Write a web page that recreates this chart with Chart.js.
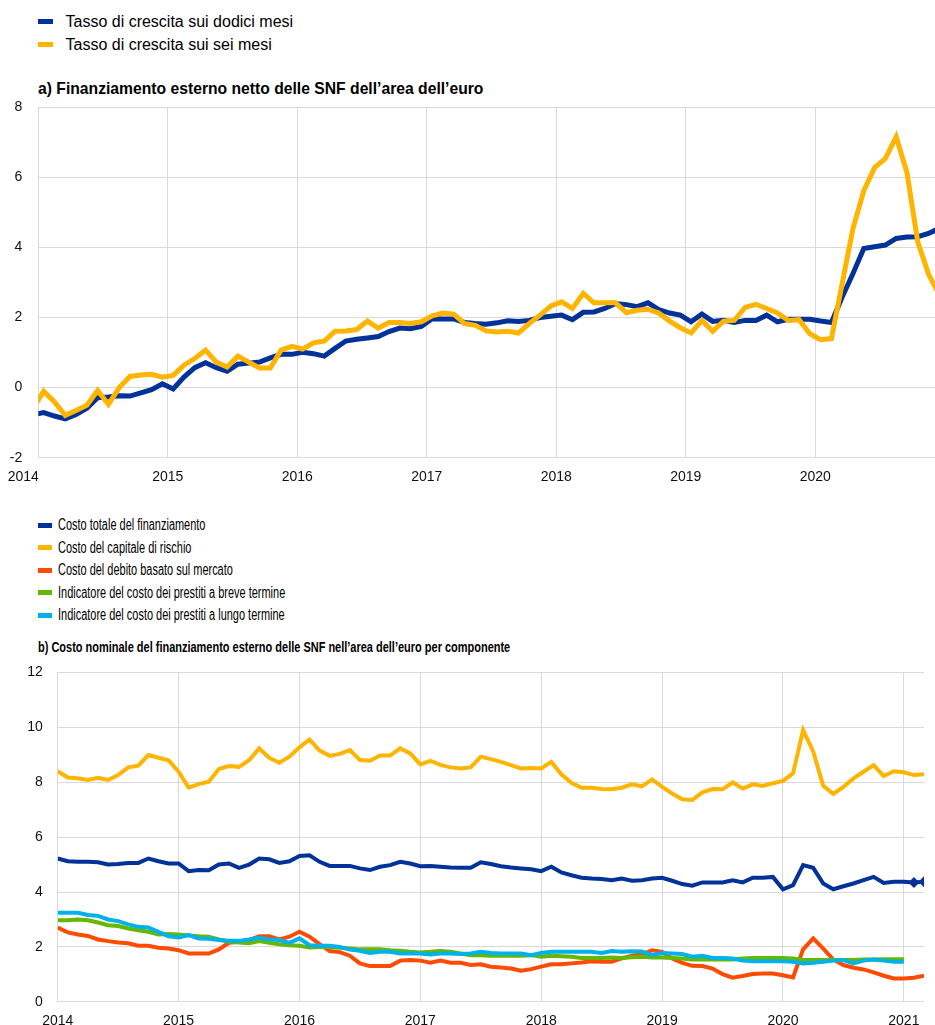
<!DOCTYPE html>
<html lang="it">
<head>
<meta charset="utf-8">
<script src="https://cdn.jsdelivr.net/npm/chart.js@4.4.1/dist/chart.umd.min.js"></script>
<style>
html,body{margin:0;padding:0;background:#fff;overflow:hidden}
body{width:935px;height:1025px;position:relative;font-family:"Liberation Sans",Arial,sans-serif;color:#000}
.legend{position:absolute;left:38px}
.item{position:relative;white-space:nowrap}
.sw{position:absolute;left:0}
.txt{position:absolute;transform-origin:0 50%}
.title{position:absolute;left:38px;font-weight:bold;white-space:nowrap;transform-origin:0 50%}
canvas{position:absolute;left:0}
</style>
</head>
<body>

<div id="legendA" class="legend" style="top:10px"></div>
<div class="title" style="top:79px;font-size:15.7px;line-height:19px">a) Finanziamento esterno netto delle SNF dell’area dell’euro</div>
<canvas id="chartA" width="935" height="408" style="top:82.6px"></canvas>

<div id="legendB" class="legend" style="top:514px"></div>
<div class="title" style="top:637px;font-size:15px;line-height:19px;transform:scaleX(0.732)">b) Costo nominale del finanziamento esterno delle SNF nell’area dell’euro per componente</div>
<canvas id="chartB" width="935" height="411" style="top:648.9px"></canvas>

<script>
// ---- panel a): monthly growth rates, first value is Dec 2013, then Jan 2014 .. Dec 2020
const topYears = ["2014","2015","2016","2017","2018","2019","2020"]

const growth12m = [
-0.78,
-0.71,-0.81,-0.89,-0.77,-0.59,-0.29,-0.27,-0.23,-0.24,-0.15,-0.06,0.11,
-0.04,0.30,0.57,0.71,0.57,0.47,0.67,0.70,0.73,0.85,0.95,0.95,
1.01,0.97,0.90,1.12,1.33,1.38,1.42,1.46,1.60,1.70,1.68,1.75,
1.97,1.96,1.96,1.86,1.83,1.81,1.85,1.91,1.89,1.92,2.00,2.04,
2.07,1.94,2.15,2.16,2.26,2.40,2.37,2.31,2.42,2.23,2.13,2.07,
1.88,2.10,1.89,1.92,1.86,1.92,1.92,2.07,1.88,1.95,1.95,1.95,
1.90,1.86,2.59,3.26,3.97,4.02,4.07,4.26,4.30,4.31,4.40,4.55
]

const growth6m = [
-0.60,
-0.10,-0.41,-0.79,-0.65,-0.50,-0.08,-0.48,0.00,0.32,0.36,0.38,0.30,
0.35,0.64,0.83,1.07,0.73,0.59,0.90,0.73,0.56,0.56,1.07,1.18,
1.10,1.28,1.33,1.61,1.62,1.66,1.90,1.70,1.86,1.86,1.83,1.88,
2.05,2.13,2.10,1.83,1.78,1.62,1.59,1.61,1.56,1.83,2.07,2.33,
2.45,2.26,2.69,2.42,2.42,2.42,2.14,2.21,2.24,2.13,1.90,1.71,
1.56,1.92,1.61,1.90,1.92,2.29,2.38,2.26,2.13,1.92,1.94,1.54,
1.37,1.40,2.97,4.55,5.62,6.28,6.54,7.16,6.14,4.16,3.24,2.65
]

const topLabels = ["Tasso di crescita sui dodici mesi","Tasso di crescita sui sei mesi"]

// ---- panel b): monthly costs, Jan 2014 .. Mar 2021 (short/long term loans end Jan 2021)
const bottomYears = ["2014","2015","2016","2017","2018","2019","2020","2021"]

const totalCost = [
5.22,5.12,5.10,5.10,5.08,5.00,5.02,5.06,5.06,5.22,5.12,5.04,
5.04,4.76,4.80,4.79,5.00,5.04,4.88,5.00,5.22,5.19,5.06,5.12,
5.31,5.34,5.10,4.95,4.95,4.95,4.86,4.80,4.92,4.98,5.10,5.04,
4.94,4.95,4.92,4.89,4.88,4.88,5.08,5.02,4.94,4.89,4.86,4.83,
4.76,4.92,4.71,4.61,4.52,4.49,4.47,4.43,4.49,4.41,4.43,4.49,
4.52,4.41,4.29,4.23,4.35,4.35,4.35,4.43,4.35,4.52,4.52,4.55,
4.10,4.25,4.98,4.88,4.31,4.10,4.21,4.31,4.43,4.55,4.33,4.37,
4.37,4.35,4.37
]
const totalCostEstimates = 2   // last points shown as markers

const equityCost = [
8.40,8.17,8.14,8.08,8.16,8.08,8.26,8.54,8.60,8.99,8.89,8.80,
8.38,7.80,7.93,8.02,8.48,8.59,8.56,8.80,9.23,8.89,8.71,8.93,
9.27,9.56,9.15,8.96,9.03,9.17,8.81,8.78,8.97,8.97,9.23,9.05,
8.65,8.78,8.63,8.54,8.50,8.54,8.93,8.84,8.74,8.62,8.50,8.52,
8.50,8.74,8.29,7.98,7.80,7.80,7.75,7.74,7.80,7.92,7.85,8.10,
7.83,7.59,7.38,7.35,7.63,7.75,7.74,7.99,7.77,7.92,7.86,7.96,
8.05,8.32,9.90,9.12,7.87,7.57,7.83,8.14,8.38,8.62,8.22,8.40,
8.36,8.26,8.29
]

const marketDebtCost = [
2.70,2.53,2.45,2.40,2.27,2.21,2.16,2.13,2.04,2.04,1.97,1.94,
1.88,1.76,1.76,1.76,1.91,2.15,2.19,2.25,2.39,2.39,2.27,2.37,
2.55,2.37,2.10,1.85,1.81,1.68,1.40,1.30,1.30,1.30,1.50,1.52,
1.50,1.42,1.50,1.42,1.42,1.34,1.37,1.28,1.25,1.21,1.13,1.19,
1.28,1.37,1.37,1.40,1.43,1.48,1.46,1.46,1.58,1.68,1.73,1.88,
1.82,1.58,1.42,1.31,1.30,1.21,1.01,0.88,0.94,1.01,1.03,1.03,
0.97,0.89,1.91,2.31,1.94,1.54,1.34,1.24,1.18,1.07,0.95,0.85,
0.85,0.88,0.95
]

const shortLoanCost = [
2.97,2.97,3.00,2.97,2.89,2.79,2.76,2.67,2.61,2.55,2.45,2.47,
2.45,2.42,2.39,2.37,2.27,2.19,2.16,2.13,2.21,2.15,2.10,2.06,
2.04,1.98,2.00,2.00,1.97,1.94,1.91,1.91,1.91,1.88,1.86,1.82,
1.80,1.82,1.85,1.82,1.76,1.70,1.70,1.68,1.68,1.68,1.68,1.70,
1.64,1.68,1.66,1.64,1.60,1.60,1.60,1.61,1.60,1.62,1.64,1.61,
1.61,1.60,1.58,1.54,1.54,1.54,1.54,1.54,1.58,1.60,1.60,1.60,
1.60,1.58,1.52,1.52,1.52,1.52,1.52,1.52,1.54,1.54,1.55,1.55,
1.55
]

const longLoanCost = [
3.24,3.24,3.24,3.16,3.13,3.00,2.94,2.82,2.73,2.71,2.55,2.39,
2.34,2.43,2.31,2.30,2.25,2.22,2.22,2.27,2.33,2.27,2.25,2.15,
2.31,2.06,2.04,2.04,2.00,1.90,1.86,1.78,1.82,1.82,1.76,1.76,
1.76,1.72,1.76,1.76,1.74,1.76,1.82,1.78,1.76,1.76,1.76,1.70,
1.78,1.82,1.82,1.82,1.82,1.82,1.78,1.85,1.82,1.84,1.83,1.70,
1.78,1.76,1.74,1.64,1.68,1.60,1.60,1.58,1.50,1.48,1.48,1.48,
1.48,1.46,1.40,1.42,1.46,1.50,1.52,1.40,1.50,1.54,1.50,1.46,
1.46
]

const bottomLabels = [
"Costo totale del finanziamento",
"Costo del capitale di rischio",
"Costo del debito basato sul mercato",
"Indicatore del costo dei prestiti a breve termine",
"Indicatore del costo dei prestiti a lungo termine"
]

const BLUE = "#003299", YELLOW = "#ffb400", RED = "#ff4b00", GREEN = "#65b800", CYAN = "#00b1ea"
const GRID = "#d9d9d9"
const tickFont = {family: "'Liberation Sans', Arial, sans-serif", size: 14}

function buildLegend(id, labels, colors, o){
  let html = ""
  labels.forEach((lab, k) => {
    html += `<div class="item" style="height:${o.row}px">
      <span class="sw" style="background:${colors[k]};width:${o.sw}px;height:${o.sh}px;top:${(o.row-o.sh)/2}px"></span>
      <span class="txt" style="left:${o.tx}px;font-size:${o.fs}px;line-height:${o.row}px;transform:scaleX(${o.sx})">${lab}</span>
    </div>`
  })
  document.getElementById(id).innerHTML = html
}

buildLegend("legendA", topLabels, [BLUE, YELLOW], {row:23, sw:15, sh:5, tx:27.5, fs:16, sx:1})
buildLegend("legendB", bottomLabels, [BLUE, YELLOW, RED, GREEN, CYAN], {row:22.5, sw:14, sh:5, tx:19.7, fs:16, sx:0.685})

function line(label, values, color, xOf, width, order){
  return {
    label: label,
    data: values.map((v, i) => ({x: xOf(i), y: v})),
    borderColor: color,
    backgroundColor: color,
    borderWidth: width,
    pointRadius: 0,
    tension: 0,
    fill: false,
    order: order
  }
}

function xAxis(years, max, height, pad){
  return {
    type: "linear", min: 0, max: max,
    afterBuildTicks: s => { s.ticks = years.map((y, k) => ({value: k*12})) },
    afterFit: s => { s.height = height },
    ticks: {callback: v => years[v/12], font: tickFont, color: "#111", padding: pad, maxRotation: 0, autoSkip: false},
    grid: {color: GRID, lineWidth: 1, drawTicks: false},
    border: {display: false}
  }
}

function yAxis(min, max, width, pad){
  return {
    min: min, max: max,
    afterFit: s => { s.width = width },
    ticks: {stepSize: 2, font: tickFont, color: "#111", padding: pad},
    grid: {color: GRID, lineWidth: 1, drawTicks: false},
    border: {display: false}
  }
}

const common = {
  responsive: false,
  animation: false,
  plugins: {legend: {display: false}, tooltip: {enabled: false}}
}

// first year label of panel a) sits a little left of its gridline, as in the original
const nudgeFirstLabel = {
  id: "nudgeFirstLabel",
  beforeDraw(chart){
    const items = chart.scales.x.getLabelItems()
    if (items.length) items[0].options.translation[0] -= 15
  }
}

// top chart: points sit at mid-month, first one is Dec 2013
const midMonth = i => i - 0.5

new Chart(document.getElementById("chartA"), {
  type: "line",
  data: {datasets: [
    line(topLabels[0], growth12m, BLUE, midMonth, 5, 1),
    line(topLabels[1], growth6m, YELLOW, midMonth, 5, 0)
  ]},
  options: Object.assign({}, common, {
    layout: {padding: {top: 0, right: 0, left: 0, bottom: 0}},
    scales: {x: xAxis(topYears, 83.1, 33.3, 11), y: yAxis(-2, 8, 38.3, 16)}
  }),
  plugins: [nudgeFirstLabel]
})

const month = i => i

const blueSet = line(bottomLabels[0], totalCost, BLUE, month, 4, 3)
blueSet.pointRadius = totalCost.map((v, i) => i >= totalCost.length - totalCostEstimates ? 5.5 : 0)
blueSet.pointStyle = "rectRot"
blueSet.pointBorderWidth = 0

new Chart(document.getElementById("chartB"), {
  type: "line",
  data: {datasets: [
    line(bottomLabels[1], equityCost, YELLOW, month, 4, 4),
    blueSet,
    line(bottomLabels[2], marketDebtCost, RED, month, 4, 2),
    line(bottomLabels[3], shortLoanCost, GREEN, month, 4, 1),
    line(bottomLabels[4], longLoanCost, CYAN, month, 4, 0)
  ]},
  options: Object.assign({}, common, {
    layout: {padding: {top: 0, right: 11, left: 0, bottom: 0}},
    scales: {x: xAxis(bottomYears, 86, 58.2, 11), y: yAxis(0, 12, 57.7, 15)}
  })
})
</script>
</body>
</html>
